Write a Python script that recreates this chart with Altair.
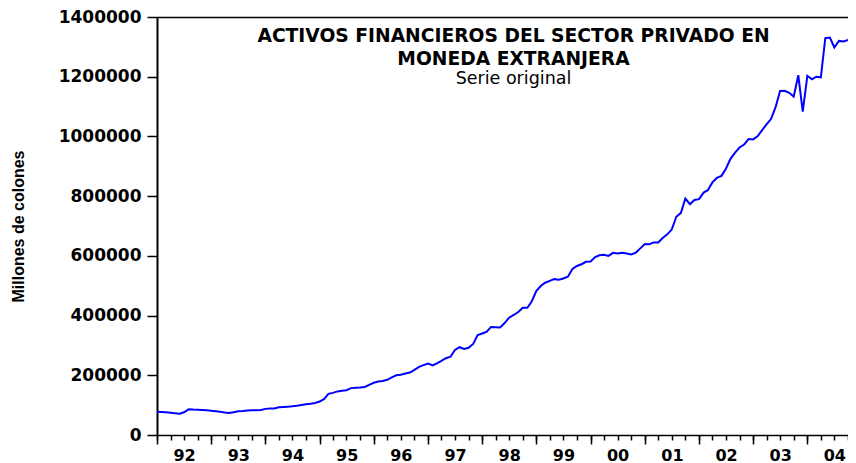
import altair as alt
import pandas as pd

# Monthly values (millones de colones), Jan 1992 - Oct 2004
v1992 = [78000, 77000, 76000, 74500, 73000, 71500, 76000, 86000, 85000, 84500, 83500, 82500]
v1993 = [81000, 79500, 77500, 75000, 73500, 76500, 79500, 80500, 82000, 82500, 82500, 83500]
v1994 = [87500, 88500, 89000, 93000, 94000, 95000, 96000, 98000, 100500, 103000, 104500, 107000]
v1995 = [112000, 121000, 138000, 141000, 146000, 148000, 150000, 157000, 158000, 159000, 161000, 168000]
v1996 = [175000, 179000, 181000, 185000, 193000, 200000, 202000, 206000, 209000, 218000, 228000, 234000]
v1997 = [239000, 233000, 240000, 248000, 257000, 262000, 285000, 294000, 288000, 292000, 305000, 335000]
v1998 = [340000, 346000, 362000, 361000, 360000, 375000, 393000, 402000, 412000, 426000, 426000, 448000]
v1999 = [483000, 500000, 510000, 516000, 522000, 520000, 524000, 530000, 556000, 566000, 572000, 580000]
v2000 = [581000, 596000, 602000, 604000, 600000, 610000, 608000, 610000, 608000, 605000, 611000, 625000]
v2001 = [640000, 639000, 645000, 645000, 660000, 672000, 688000, 731000, 744000, 792000, 773000, 787000]
v2002 = [790000, 812000, 820000, 846000, 861000, 868000, 892000, 925000, 946000, 963000, 973000, 991000]
v2003 = [990000, 1001000, 1020000, 1040000, 1058000, 1098000, 1152000, 1153000, 1146000, 1133000, 1205000, 1083000]
v2004 = [1203000, 1191000, 1200000, 1198000, 1329000, 1331000, 1298000, 1320000, 1318000, 1323000]

years = list(range(1992, 2005))
series = [v1992, v1993, v1994, v1995, v1996, v1997, v1998, v1999, v2000, v2001, v2002, v2003, v2004]
y_ticks = [0, 200000, 400000, 600000, 800000, 1000000, 1200000, 1400000]

title_lines = ["ACTIVOS FINANCIEROS DEL SECTOR PRIVADO EN", "MONEDA EXTRANJERA"]
subtitle_text = "Serie original"
y_title = "Millones de colones"

fechas, valores = [], []
for yr, vs in zip(years, series):
    for i, v in enumerate(vs):
        fechas.append(f"{yr}-{i + 1:02d}-01T00:00:00")
        valores.append(v)
df = pd.DataFrame({"fecha": fechas, "valor": valores})

x_scale = alt.Scale(domain=[alt.DateTime(year=1992, month=1, date=1),
                            alt.DateTime(year=2004, month=10, date=1)], nice=False)
y_scale = alt.Scale(domain=[0, 1400000], nice=False)

year_vals = [alt.DateTime(year=y, month=1, date=1) for y in years]
quarter_vals = [alt.DateTime(year=y, month=m, date=1)
                for y in years for m in (1, 4, 7, 10) if (y, m) <= (2004, 10)]

base = alt.Chart(df)

main = base.mark_line(color="#0000FF", strokeWidth=2).encode(
    x=alt.X("fecha:T", scale=x_scale,
            axis=alt.Axis(values=year_vals, format="%y", labelOffset=27,
                          labelFlush=False, labelOverlap=False, tickSize=9,
                          tickColor="black", tickWidth=1.5, domainColor="black",
                          domainWidth=1.5, labelFont="DejaVu Sans",
                          labelFontWeight="bold", labelFontSize=16,
                          labelColor="black", labelPadding=3, title=None,
                          grid=False, orient="bottom")),
    y=alt.Y("valor:Q", scale=y_scale,
            axis=alt.Axis(values=y_ticks, format="d", tickSize=10,
                          tickColor="black", tickWidth=1.5, domainColor="black",
                          domainWidth=2, labelFont="DejaVu Sans",
                          labelFontWeight="bold", labelFontSize=17,
                          labelColor="black", labelPadding=6, grid=False,
                          title=y_title, titleFont="Liberation Sans",
                          titleFontWeight="bold", titleFontSize=16,
                          titleColor="black", titleX=-139, titleY=209,
                          titleAngle=270, titleAlign="center",
                          titleBaseline="middle")),
)

quarters = base.mark_line(strokeOpacity=0).encode(
    x=alt.X("fecha:T", scale=x_scale,
            axis=alt.Axis(values=quarter_vals, labels=False, tickSize=5,
                          tickColor="black", tickWidth=1.5, domain=False,
                          title=None, grid=False, orient="bottom")),
    y=alt.Y("valor:Q", scale=y_scale, axis=None),
)

top = base.mark_line(strokeOpacity=0).encode(
    x=alt.X("fecha:T", scale=x_scale,
            axis=alt.Axis(labels=False, ticks=False, domain=True,
                          domainColor="black", domainWidth=1.5,
                          title=None, grid=False, orient="top")),
    y=alt.Y("valor:Q", scale=y_scale, axis=None),
)

chart = alt.layer(main, quarters, top).resolve_axis(
    x="independent", y="independent"
).properties(
    width=691,
    height=418,
    autosize=alt.AutoSizeParams(type="none"),
    padding={"left": 149, "top": 9, "right": 0, "bottom": 28},
    title=alt.TitleParams(
        text=title_lines, subtitle=subtitle_text,
        font="DejaVu Sans", fontSize=18.7, fontWeight="bold", color="black",
        lineHeight=23, subtitleFont="DejaVu Sans", subtitleFontSize=17.5,
        subtitleFontWeight="normal", subtitleColor="black", subtitlePadding=1,
        anchor="middle", frame="group", offset=-79, dx=11,
    ),
).configure_view(stroke=None).configure(background="white")

chart.save("out.html", embed_options={"renderer": "svg", "actions": False})
